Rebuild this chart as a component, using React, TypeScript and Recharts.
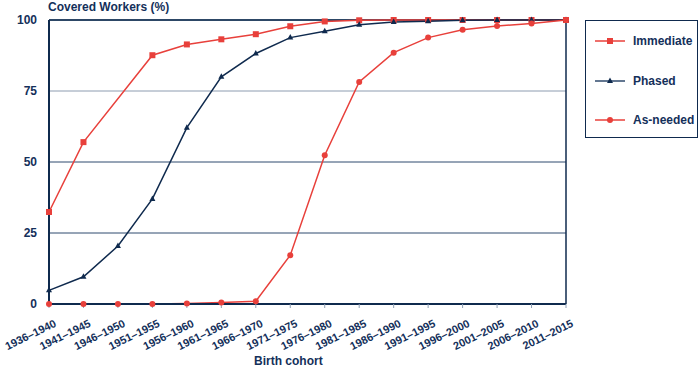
import React from 'react';
import { LineChart, Line, XAxis, YAxis, ReferenceLine } from 'recharts';

const cohorts = ['1936–1940','1941–1945','1946–1950','1951–1955','1956–1960','1961–1965','1966–1970','1971–1975','1976–1980','1981–1985','1986–1990','1991–1995','1996–2000','2001–2005','2006–2010','2011–2015'];
const immediate: (number | null)[] = [32.4, 57, null, 87.6, 91.4, 93.2, 95.0, 97.8, 99.5, 99.9, 100, 100, 100, 100, 100, 100];
const phased = [4.8, 9.6, 20.4, 37.0, 62.1, 80.0, 88.2, 93.8, 96.0, 98.3, 99.3, 99.6, 99.9, 100, 100, 100];
const asNeeded = [0, 0, 0, 0, 0.2, 0.5, 1.0, 17.2, 52.4, 78.2, 88.5, 93.8, 96.6, 97.9, 98.8, 100];
const yTicks = [0, 25, 50, 75, 100];

const data = cohorts.map((c, i) => ({ cohort: c, immediate: immediate[i], phased: phased[i], asNeeded: asNeeded[i] }));

const RED = '#e8403b';
const NAVY = '#0f2a4e';
const TEXT = '#14305a';
const FONT = 'Liberation Sans, Arial, sans-serif';

const XTick = (props: any) => {
  const { x, y, payload } = props;
  return (
    <g transform={`translate(${x + 8},${y + 16})`}>
      <text textAnchor="end" transform="rotate(-26)" fill={TEXT} fontSize={11} fontWeight={700} fontFamily={FONT}>
        {payload.value}
      </text>
    </g>
  );
};

const YTick = (props: any) => {
  const { x, y, payload } = props;
  return (
    <text x={x} y={y} dy="0.35em" textAnchor="end" fill={TEXT} fontSize={12} fontWeight={700} fontFamily={FONT}>
      {payload.value}
    </text>
  );
};

const Square = (props: any) => {
  const { cx, cy, value } = props;
  if (value == null || cx == null) return null;
  return <rect x={cx - 3} y={cy - 3} width={6} height={6} fill={RED} />;
};
const Tri = (props: any) => {
  const { cx, cy, value } = props;
  if (value == null || cx == null) return null;
  return <polygon points={`${cx},${cy - 3.5} ${cx + 3},${cy + 2} ${cx - 3},${cy + 2}`} fill={NAVY} />;
};
const Dot = (props: any) => {
  const { cx, cy, value } = props;
  if (value == null || cx == null) return null;
  return <circle cx={cx} cy={cy} r={3} fill={RED} />;
};

const LegendBox = () => {
  const items = [
    { label: 'Immediate', color: RED, marker: 'square' },
    { label: 'Phased', color: '#2f4a6d', marker: 'tri' },
    { label: 'As-needed', color: RED, marker: 'circle' },
  ];
  return (
    <div style={{ position: 'absolute', left: 585, top: 20, width: 111, height: 116, border: `1.5px solid ${NAVY}`, boxSizing: 'content-box' }}>
      {items.map((it, i) => (
        <div key={it.label} style={{ position: 'absolute', left: 0, top: 10 + i * 39.5, height: 20, display: 'flex', alignItems: 'center' }}>
          <svg width={40} height={20}>
            <line x1={9} x2={39} y1={10} y2={10} stroke={it.color} strokeWidth={1.5} />
            {it.marker === 'square' && <rect x={21} y={7} width={6} height={6} fill={it.color} />}
            {it.marker === 'tri' && <polygon points="24,6.5 27,12 21,12" fill={NAVY} />}
            {it.marker === 'circle' && <circle cx={24} cy={10} r={3} fill={it.color} />}
          </svg>
          <span style={{ marginLeft: 7, fontFamily: FONT, fontSize: 12, fontWeight: 600, color: TEXT }}>{it.label}</span>
        </div>
      ))}
    </div>
  );
};

export default function App() {
  return (
    <div style={{ position: 'absolute', left: 0, top: 0, width: 700, height: 371, background: '#fff' }}>
      <div style={{ position: 'absolute', left: 48, top: 0, fontFamily: FONT, fontSize: 12, fontWeight: 700, color: TEXT, lineHeight: '15px' }}>
        Covered Workers (%)
      </div>
      <div style={{ position: 'absolute', left: 254, top: 354, fontFamily: FONT, fontSize: 12, fontWeight: 600, color: TEXT, lineHeight: '15px' }}>
        Birth cohort
      </div>
      <LegendBox />
      <LineChart width={700} height={371} data={data} margin={{ top: 20, right: 134, bottom: 0, left: 0 }}>
        <XAxis
          dataKey="cohort"
          height={67}
          interval={0}
          tick={<XTick />}
          axisLine={{ stroke: NAVY, strokeWidth: 2 }}
          tickLine={{ stroke: '#8fa0b5' }}
          tickSize={4}
        />
        <YAxis
          width={49}
          domain={[0, 100]}
          ticks={yTicks}
          tick={<YTick />}
          axisLine={{ stroke: NAVY, strokeWidth: 2 }}
          tickLine={false}
          tickMargin={6}
        />
        <ReferenceLine y={25} stroke="#2f4b6e" strokeWidth={1} />
        <ReferenceLine y={50} stroke="#2f4b6e" strokeWidth={1} />
        <ReferenceLine y={75} stroke="#8d9cb0" strokeWidth={1} />
        <ReferenceLine y={100} stroke="#2d4766" strokeWidth={2} />
        <ReferenceLine x="2011–2015" stroke={NAVY} strokeWidth={1.5} />
        <Line dataKey="immediate" name="Immediate" stroke={RED} strokeWidth={1.5} connectNulls dot={<Square />} activeDot={false} isAnimationActive={false} />
        <Line dataKey="phased" name="Phased" stroke={NAVY} strokeWidth={1.5} dot={<Tri />} activeDot={false} isAnimationActive={false} />
        <Line dataKey="asNeeded" name="As-needed" stroke={RED} strokeWidth={1.5} dot={<Dot />} activeDot={false} isAnimationActive={false} />
      </LineChart>
    </div>
  );
}
